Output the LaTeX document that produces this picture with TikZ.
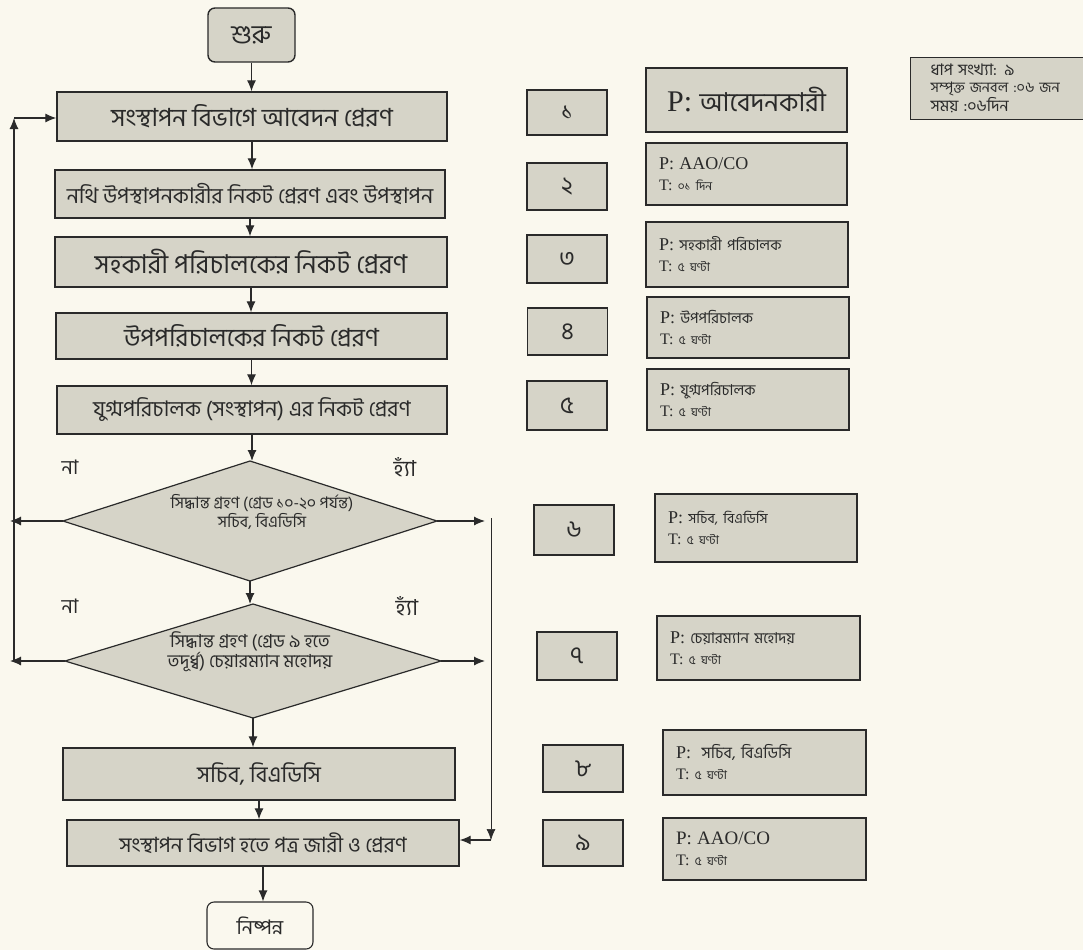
\documentclass[tikz,border=0pt]{standalone}
\usepackage{fontspec}
\setmainfont{Liberation Serif}
\newfontfamily\bn[Script=Bengali]{Hind Siliguri}
\usetikzlibrary{shapes.geometric,arrows.meta}
\definecolor{bg}{HTML}{FAF8EE}
\definecolor{boxfill}{HTML}{D6D4C8}
\definecolor{ink}{HTML}{2A2A2A}
\tikzset{
  base/.style={draw=ink, fill=boxfill, line width=1.4pt, inner sep=0pt, text=ink},
  proc/.style={base, minimum width=#1},
  term/.style={base, rounded corners=7pt},
  dshape/.style={draw=ink, fill=boxfill, line width=1.2pt},
  dtext/.style={inner sep=0pt, text=ink, align=center},
  numbox/.style={base, minimum width=80pt},
  infobox/.style={base, align=left, inner xsep=13pt, text width=#1, font=\fontsize{16}{21}\selectfont},
  arr/.style={draw=ink, line width=1.1pt, -{Latex[length=11pt,width=9pt]}},
  thinarr/.style={draw=ink, line width=0.6pt, -{Latex[length=11pt,width=9pt]}},
  lbl/.style={text=ink, inner sep=0pt}
}
\newcommand{\pline}[2]{{\fontsize{18}{21}\selectfont P: }{\bn\fontsize{#2}{21}\selectfont #1}}
\newcommand{\tline}[1]{{\fontsize{16}{21}\selectfont T: }{\bn\fontsize{12}{21}\selectfont #1}}
\begin{document}
\begin{tikzpicture}[x=1pt,y=-1pt]
\fill[bg] (0,0) rectangle (1083,950);
\useasboundingbox (0,0) rectangle (1083,950);

% main flow
\node[term, minimum width=87pt, minimum height=54pt] (start) at (251.5,35) {\bn\fontsize{26}{28}\selectfont শুরু};
\node[proc=390pt, minimum height=49pt] (b1) at (252,116.5) {\bn\fontsize{25}{28}\selectfont সংস্থাপন বিভাগে আবেদন প্রেরণ};
\node[proc=390pt, minimum height=48pt] (b2) at (250,194) {\bn\fontsize{21.5}{24}\selectfont নথি উপস্থাপনকারীর নিকট প্রেরণ এবং উপস্থাপন};
\node[proc=392pt, minimum height=50pt] (b3) at (251,262) {\bn\fontsize{26}{28}\selectfont সহকারী পরিচালকের নিকট প্রেরণ};
\node[proc=391pt, minimum height=46pt] (b4) at (251.5,336) {\bn\fontsize{25}{28}\selectfont উপপরিচালকের নিকট প্রেরণ};
\node[proc=390pt, minimum height=48pt] (b5) at (252,410) {\bn\fontsize{21.5}{24}\selectfont যুগ্মপরিচালক (সংস্থাপন) এর নিকট প্রেরণ};

% decision 1
\coordinate (d1n) at (250,461);
\coordinate (d1s) at (250,581);
\coordinate (d1w) at (63,521);
\coordinate (d1e) at (437,521);
\draw[dshape] (d1n) -- (d1e) -- (d1s) -- (d1w) -- cycle;
\node[dtext] (d1) at (262,512) {\bn\fontsize{16}{18}\selectfont সিদ্ধান্ত গ্রহণ (গ্রেড ১০-২০ পর্যন্ত)\\ \bn\fontsize{16}{18}\selectfont সচিব, বিএডিসি};

% decision 2
\coordinate (d2n) at (253,604);
\coordinate (d2s) at (253,718);
\coordinate (d2w) at (65,661);
\coordinate (d2e) at (441,661);
\draw[dshape] (d2n) -- (d2e) -- (d2s) -- (d2w) -- cycle;
\node[dtext] (d2) at (250,652) {\bn\fontsize{18}{27}\selectfont সিদ্ধান্ত গ্রহণ (গ্রেড ৯ হতে\\ \bn\fontsize{18}{27}\selectfont তদূর্ধ্ব) চেয়ারম্যান মহোদয়};

\node[proc=392pt, minimum height=52pt] (b8) at (259,774) {\bn\fontsize{22.5}{26}\selectfont সচিব, বিএডিসি};
\node[proc=392pt, minimum height=46pt] (b9) at (263,843) {\bn\fontsize{21}{24}\selectfont সংস্থাপন বিভাগ হতে পত্র জারী ও প্রেরণ};
\node[term, line width=1.1pt, fill=bg, minimum width=106pt, minimum height=47pt] (end) at (260,925.5) {\bn\fontsize{20}{22}\selectfont নিষ্পন্ন};

% labels
\node[lbl] (no1) at (70,467) {\bn\fontsize{20}{22}\selectfont না};
\node[lbl] (yes1) at (405,467) {\bn\fontsize{22}{24}\selectfont হ্যাঁ};
\node[lbl] (no2) at (70,606) {\bn\fontsize{20}{22}\selectfont না};
\node[lbl] (yes2) at (407,606) {\bn\fontsize{22}{24}\selectfont হ্যাঁ};

% vertical arrows
\draw[arr] (start.south) -- (start.south |- b1.north);
\draw[arr] (b1.south) -- (b1.south |- b2.north);
\draw[arr] (b2.south) -- (b2.south |- b3.north);
\draw[arr] (b3.south) -- (b3.south |- b4.north);
\draw[arr] (b4.south) -- (b4.south |- b5.north);
\draw[arr] (b5.south) -- (b5.south |- d1n);
\draw[arr] (d1s) -- (d1s |- d2n);
\draw[arr] (d2s) -- (d2s |- b8.north);
\draw[arr] (b8.south) -- (b8.south |- b9.north);
\draw[arr] (b9.south) -- (b9.south |- end.north);

% left loop
\coordinate (lx1) at (10,521);
\coordinate (lx2) at (10,661);
\coordinate (lb) at (14,661);
\coordinate (lt) at (14,118);
\draw[arr] (d1w) -- (lx1);
\draw[arr] (d2w) -- (lx2);
\draw[arr] (lb) -- (lt);
\draw[arr] (lt) -- (b1.west |- lt);

% right join
\coordinate (rx1) at (485,521);
\coordinate (rx2) at (485,661);
\coordinate (rt) at (491,518);
\coordinate (rb) at (491,840);
\draw[arr] (d1e) -- (rx1);
\draw[arr] (d2e) -- (rx2);
\draw[thinarr] (rt) -- (rb);
\draw[arr] (rb) -- (b9.east |- rb);

% step numbers
\node[numbox, minimum height=45pt] (n1) at (567,112.5) {\bn\fontsize{24}{26}\selectfont ১};
\node[numbox, minimum height=47pt] (n2) at (567,186.5) {\bn\fontsize{24}{26}\selectfont ২};
\node[numbox, minimum height=48pt] (n3) at (567,259) {\bn\fontsize{24}{26}\selectfont ৩};
\node[numbox, minimum height=47pt] (n4) at (567.5,331.5) {\bn\fontsize{24}{26}\selectfont ৪};
\node[numbox, minimum height=49pt] (n5) at (567,405.5) {\bn\fontsize{24}{26}\selectfont ৫};
\node[numbox, minimum height=50pt] (n6) at (574,530) {\bn\fontsize{24}{26}\selectfont ৬};
\node[numbox, minimum height=48pt] (n7) at (577,656) {\bn\fontsize{24}{26}\selectfont ৭};
\node[numbox, minimum height=47pt] (n8) at (583,768.5) {\bn\fontsize{24}{26}\selectfont ৮};
\node[numbox, minimum height=46pt] (n9) at (583,843) {\bn\fontsize{24}{26}\selectfont ৯};

% people / time
\node[base, minimum width=201pt, minimum height=64pt] (i1) at (746.5,100) {\fontsize{30}{32}\selectfont P: {\bn\fontsize{26}{30}\selectfont আবেদনকারী}};
\node[infobox=175pt, minimum height=62pt] (i2) at (746.5,174) {{\fontsize{18}{21}\selectfont P: AAO/CO}\\ \tline{০১ দিন}};
\node[infobox=176pt, minimum height=65pt] (i3) at (747,254.5) {\pline{সহকারী পরিচালক}{15}\\ \tline{৫ ঘণ্টা}};
\node[infobox=176pt, minimum height=61pt] (i4) at (748,327.5) {\pline{উপপরিচালক}{15}\\ \tline{৫ ঘণ্টা}};
\node[infobox=176pt, minimum height=61pt] (i5) at (748,399.5) {\pline{যুগ্মপরিচালক}{15}\\ \tline{৫ ঘণ্টা}};
\node[infobox=176pt, minimum height=68pt] (i6) at (756,528) {\pline{সচিব, বিএডিসি}{14}\\ \tline{৫ ঘণ্টা}};
\node[infobox=177pt, minimum height=64pt] (i7) at (758.5,648) {\pline{চেয়ারম্যান মহোদয়}{15}\\ \tline{৫ ঘণ্টা}};
\node[infobox=177pt, minimum height=65pt] (i8) at (764.5,762.5) {\pline{\ সচিব, বিএডিসি}{16}\\ \tline{৫ ঘণ্টা}};
\node[infobox=177pt, minimum height=62pt] (i9) at (764.5,849) {{\fontsize{19}{21}\selectfont P: AAO/CO}\\ \tline{৫ ঘণ্টা}};

% summary
\node[infobox=133pt, inner xsep=20pt, line width=1.2pt, minimum height=62pt, anchor=north west, font=\fontsize{15}{17}\selectfont] (sum) at (910,57) {\bn\fontsize{16}{17}\selectfont ধাপ সংখ্যা: ৯\\ \fontsize{14.5}{17}\selectfont সম্পৃক্ত জনবল :০৬ জন\\ \fontsize{16}{17}\selectfont সময় :০৬দিন};
\end{tikzpicture}
\end{document}
